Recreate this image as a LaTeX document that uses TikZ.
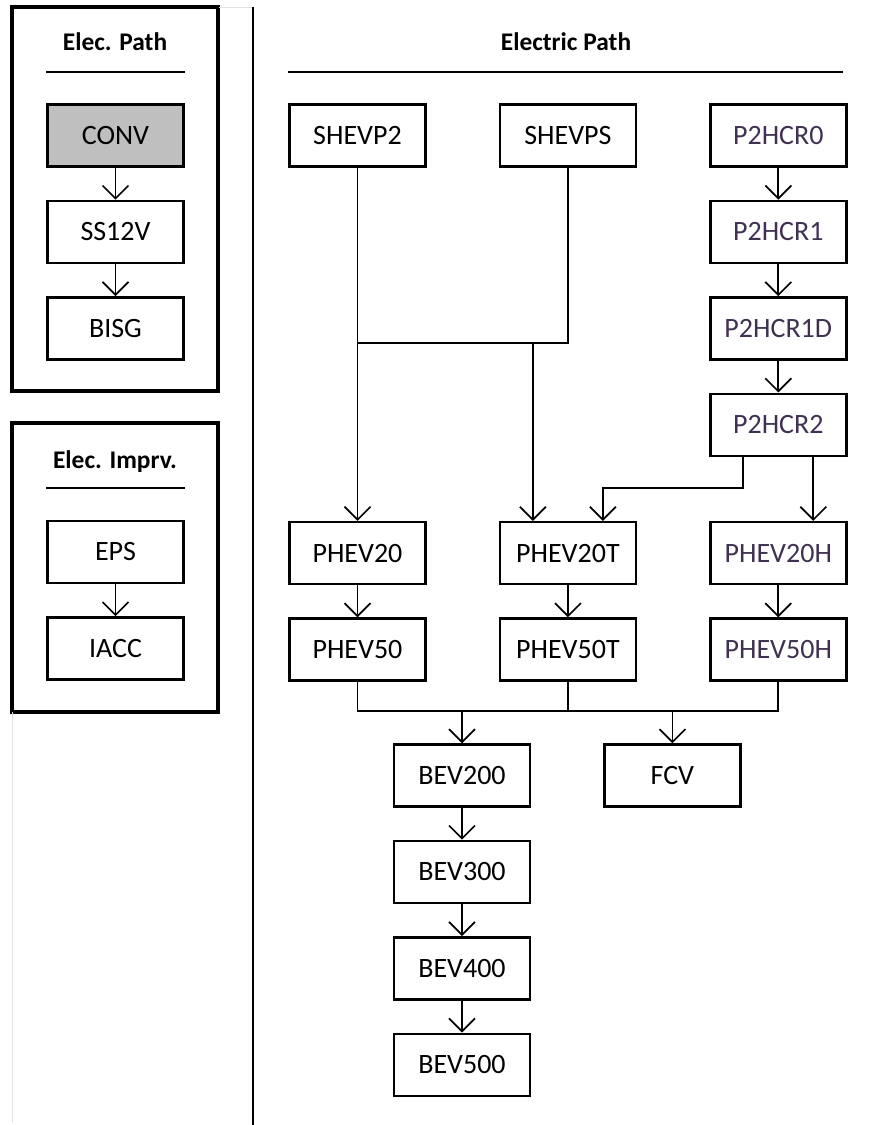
\documentclass[tikz,border=0pt]{standalone}
\usepackage{fontspec}
\setmainfont{Carlito}
\usetikzlibrary{arrows.meta,positioning,calc}
\definecolor{plum}{RGB}{64,49,82}
\definecolor{convgray}{RGB}{191,191,191}
\definecolor{rulegray}{RGB}{226,226,226}

\begin{document}
\begin{tikzpicture}
	[x=0.5pt,y=-0.5pt,>={Straight Barb[length=6.5pt,width=13pt]},node distance=16pt,
		box/.style={draw,line width=1.2pt,minimum width=68pt,minimum height=31pt,inner sep=0pt,font=\fontsize{14}{16}\selectfont},
		hbox/.style={box,text=plum},
		title/.style={font=\fontsize{12.7}{15}\selectfont\bfseries},
		panel/.style={draw,line width=2pt},
		link/.style={line width=0.85pt},
		arr/.style={link,->}]

	\useasboundingbox (0,0) rectangle (868,1125);

	% frames
	\draw[panel] (12,7) rectangle (218,391);
	\draw[panel] (12,423) rectangle (218,712);
	\draw[rulegray,line width=0.5pt] (12,712) -- (12,1123);
	\draw[rulegray,line width=0.5pt] (219,7) -- (252,7);
	\draw[line width=1.4pt] (253,7) -- (253,1125);

	% left column
	\node[title] (tpath) at (115,42) {Elec. Path};
	\draw[line width=1pt] (46,72) -- (185,72);
	\node[box,fill=convgray] (CONV) at (115.5,135.5) {CONV};
	\node[box] [below=of CONV] (SS12V) {SS12V};
	\node[box] [below=of SS12V] (BISG) {BISG};

	\node[title] (timprv) at (115,462) {Elec. Imprv.};
	\draw[line width=1pt] (46,488) -- (185,488);
	\node[box] (EPS) at (115.5,552) {EPS};
	\node[box] [below=of EPS] (IACC) {IACC};

	% electric path
	\node[title] (telec) at (566,42) {Electric Path};
	\draw[line width=1pt] (288,72) -- (843,72);

	\node[box] (SHEVP2) at (357.5,135.5) {SHEVP2};
	\node[box] [right=36pt of SHEVP2] (SHEVPS) {SHEVPS};
	\node[hbox] [right=36pt of SHEVPS] (P2HCR0) {P2HCR0};
	\node[hbox] [below=of P2HCR0] (P2HCR1) {P2HCR1};
	\node[hbox] [below=of P2HCR1] (P2HCR1D) {P2HCR1D};
	\node[hbox] [below=of P2HCR1D] (P2HCR2) {P2HCR2};

	\node[hbox] [below=32pt of P2HCR2] (PHEV20H) {PHEV20H};
	\node[box] [left=36pt of PHEV20H] (PHEV20T) {PHEV20T};
	\node[box] [left=36pt of PHEV20T] (PHEV20) {PHEV20};
	\node[box] [below=of PHEV20] (PHEV50) {PHEV50};
	\node[box] [below=of PHEV20T] (PHEV50T) {PHEV50T};
	\node[hbox] [below=of PHEV20H] (PHEV50H) {PHEV50H};

	\node[box] (BEV200) at (462,775.5) {BEV200};
	\node[box] [right=36pt of BEV200] (FCV) {FCV};
	\node[box] [below=of BEV200] (BEV300) {BEV300};
	\node[box] [below=of BEV300] (BEV400) {BEV400};
	\node[box] [below=of BEV400] (BEV500) {BEV500};

	\coordinate (split) at (357.5,343);
	\coordinate (bus) at (357.5,711);
	\coordinate (t20l) at ($(PHEV20T.north)+(-35,0)$);
	\coordinate (t20r) at ($(PHEV20T.north)+(35,0)$);
	\coordinate (h2l) at ($(P2HCR2.south)+(-35,0)$);
	\coordinate (h2r) at ($(P2HCR2.south)+(35,0)$);

	\draw[arr] (CONV) -- (SS12V);
	\draw[arr] (SS12V) -- (BISG);
	\draw[arr] (EPS) -- (IACC);

	\draw[link] (SHEVP2.south) -- (split) -| (SHEVPS.south);
	\draw[arr] (split) -- (PHEV20.north);
	\draw[arr] (t20l |- split) -- (t20l);

	\draw[arr] (P2HCR0) -- (P2HCR1);
	\draw[arr] (P2HCR1) -- (P2HCR1D);
	\draw[arr] (P2HCR1D) -- (P2HCR2);
	\draw[arr] (h2l) -- ++(0,31) -| (t20r);
	\draw[arr] (h2r) -- (h2r |- PHEV20H.north);

	\draw[arr] (PHEV20) -- (PHEV50);
	\draw[arr] (PHEV20T) -- (PHEV50T);
	\draw[arr] (PHEV20H) -- (PHEV50H);

	\draw[link] (PHEV50.south) -- (bus) -| (PHEV50H.south);
	\draw[link] (PHEV50T.south) -- (PHEV50T.south |- bus);
	\draw[arr] (bus -| BEV200.north) -- (BEV200.north);
	\draw[arr] (bus -| FCV.north) -- (FCV.north);

	\draw[arr] (BEV200) -- (BEV300);
	\draw[arr] (BEV300) -- (BEV400);
	\draw[arr] (BEV400) -- (BEV500);

\end{tikzpicture}
\end{document}
